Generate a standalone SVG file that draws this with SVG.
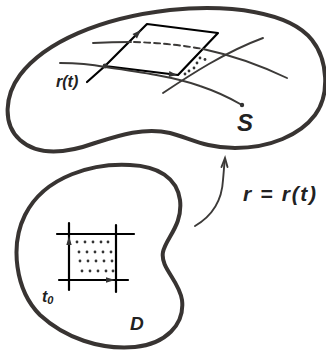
<svg xmlns="http://www.w3.org/2000/svg" width="326" height="350" viewBox="0 0 326 350">
<style>
.blob{fill:none;stroke:#383432;stroke-width:4;stroke-linejoin:round}
.curve{fill:none;stroke:#3c3a38;stroke-width:1.9;stroke-linecap:round}
.edge{fill:none;stroke:#000;stroke-width:2.2;stroke-linecap:round;stroke-linejoin:round}
.grid{fill:none;stroke:#000;stroke-width:2.2;stroke-linecap:round}
.dot{fill:#333}
.head{fill:#333}
.lbl{font-family:"Liberation Sans",Arial,sans-serif;font-style:italic;font-weight:bold;fill:#222}
</style>
<rect width="326" height="350" fill="#fff"/>
<g id="surface-S">
<path class="blob" d="M 170,10 C 230,4 290,12 312,40 C 328,60 330,95 315,115 C 300,135 270,148 235,148 C 205,148 190,138 170,133 C 145,127 120,135 95,143 C 70,152 40,158 20,140 C 2,124 5,95 20,75 C 45,42 100,18 170,10 Z"/>
<text class="lbl" x="237" y="131" font-size="24">S</text>
</g>
<g id="region-D">
<path class="blob" d="M 130,165 C 95,163 45,175 25,215 C 10,245 15,290 40,315 C 65,338 100,350 135,347 C 165,344 185,325 182,300 C 179,280 160,268 163,252 C 166,238 183,225 180,200 C 177,178 158,166 130,165 Z"/>
<text class="lbl" x="130" y="330" font-size="19">D</text>
</g>
<g id="grid-cell">
<line class="grid" x1="57" y1="234" x2="134" y2="234"/>
<line class="grid" x1="59" y1="280" x2="128" y2="280"/>
<line class="grid" x1="69" y1="223" x2="69" y2="290"/>
<line class="grid" x1="116" y1="225" x2="116" y2="292"/>
<polygon class="head" points="69,236 66.3,245 71.7,245"/>
<polygon class="head" points="115,280 106,277.3 106,282.7"/>
<g class="dot">
<circle cx="77" cy="242" r="1.4"/><circle cx="85" cy="242" r="1.4"/><circle cx="93" cy="242" r="1.4"/><circle cx="101" cy="242" r="1.4"/><circle cx="108" cy="242" r="1.4"/>
<circle cx="79" cy="252" r="1.4"/><circle cx="87" cy="252" r="1.4"/><circle cx="95" cy="252" r="1.4"/><circle cx="103" cy="252" r="1.4"/><circle cx="111" cy="252" r="1.4"/>
<circle cx="80" cy="261" r="1.4"/><circle cx="88" cy="261" r="1.4"/><circle cx="96" cy="261" r="1.4"/><circle cx="104" cy="261" r="1.4"/><circle cx="112" cy="261" r="1.4"/>
<circle cx="82" cy="271" r="1.4"/><circle cx="90" cy="271" r="1.4"/><circle cx="98" cy="271" r="1.4"/><circle cx="106" cy="271" r="1.4"/><circle cx="113" cy="271" r="1.4"/>
</g>
<text class="lbl" x="42" y="302" font-size="16">t<tspan font-size="11" dy="2">0</tspan></text>
</g>
<g id="tangent-cell">
<polyline class="edge" points="87,82 105,66 147,24 218,33 178,75 105,66"/>
<polygon class="head" points="141,30 137,38.5 132.5,34"/>
<polygon class="head" points="177,74.9 168.7,77 169.3,71"/>
<circle class="dot" cx="105" cy="66" r="2.4"/>
<g class="dot">
<circle cx="200" cy="58" r="1.4"/><circle cx="205" cy="59.5" r="1.4"/><circle cx="197" cy="63" r="1.4"/><circle cx="194" cy="68" r="1.4"/><circle cx="189" cy="71" r="1.4"/><circle cx="185" cy="74" r="1.4"/>
</g>
<text class="lbl" x="56" y="87" font-size="16">r(t)</text>
</g>
<g id="connectors">
<path class="curve" d="M 93,43 Q 112,42 131,42"/>
<path class="curve" d="M 134,42 Q 170,43 203,49" stroke-dasharray="6,4"/>
<path class="curve" d="M 203,49 Q 245,58 287,78"/>
<path class="curve" d="M 60,63 C 80,63 95,65 105,67 C 140,72 175,77 200,86 C 215,91 230,98 242,105"/>
<circle class="dot" cx="242" cy="105" r="2.2"/>
<path class="curve" d="M 163,93 C 190,75 225,52 263,38"/>
<path class="curve" d="M 195,226 C 212,216 222,200 223,180 C 224,170 224,165 225,160"/>
<path class="curve" d="M 221.5,167 L 225,158 L 227.5,167"/>
<text class="lbl" x="243" y="201" font-size="21" textLength="73" lengthAdjust="spacing">r = r(t)</text>
</g>
</svg>
